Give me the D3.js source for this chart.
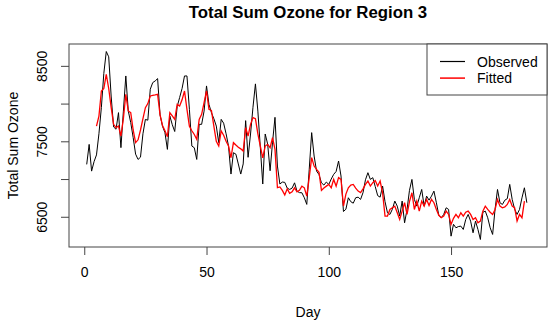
<!DOCTYPE html>
<html>
<head>
<meta charset="utf-8">
<script src="https://cdn.jsdelivr.net/npm/d3@7"></script>
<style>
  body { margin: 0; background: #fff; }
  text { font-family: "Liberation Sans", Arial, sans-serif; fill: #000; }
</style>
</head>
<body>
<div id="chart"></div>
<script>
// observed total ozone, days 1..181
const observed = [
  7194, 7459, 7105, 7230, 7320, 7600, 7950, 8400, 8690, 8620,
  8100, 7690, 7660, 7880, 7416, 7900, 8366, 7902, 7750, 7550,
  7330, 7260, 7290, 7600, 7790, 7780, 8190, 8278, 8300, 8331,
  7850, 7700, 7615, 7393, 7835, 7720, 7630, 7960, 8080, 8200,
  8366, 8366, 7924, 7437, 7415, 7260, 7725, 7725, 7900, 8234,
  7990, 7880, 7800, 7702, 7482, 7791, 7740, 7600, 7437, 7066,
  7349, 7330, 7200, 7066, 7200, 7774, 7288, 7597, 7951, 8261,
  7900, 7420, 6934, 7597, 7464, 7110, 7487, 7818, 7172, 6934,
  6960, 6956, 6880, 6862, 6880, 6950, 6840, 6820, 6818, 6752,
  6664, 7128, 7615, 7305, 7106, 7060, 6950, 6920, 6960, 6928,
  7000, 7062, 7100, 7239, 7040, 6570, 6600, 6752, 6700, 6680,
  6752, 6760, 6730, 6820, 6990, 7084, 6995, 7018, 6900, 6780,
  6760, 6907, 6700, 6553, 6531, 6600, 6708, 6641, 6509, 6708,
  6420, 6597, 6850, 6995, 6730, 6641, 6752, 6862, 6641, 6774,
  6720, 6774, 6840, 6686, 6520, 6487, 6531, 6619, 6597, 6243,
  6400, 6354, 6370, 6376, 6332, 6464, 6531, 6442, 6288, 6442,
  6332, 6199, 6560, 6575, 6487, 6354, 6266, 6600, 6862, 6686,
  6663, 6720, 6740, 6929, 6730, 6600, 6531, 6597, 6750, 6884,
  6686
];
const obsFirstDay = 1;

// fitted values, days 5..180
const fitted = [
  7702, 7835, 8167, 8200, 8388, 8200, 7950, 7725, 7681, 7702,
  7570, 7800, 8123, 7902, 7880, 7650, 7482, 7520, 7650, 7800,
  7946, 8000, 8101, 8110, 8115, 8123, 7850, 7710, 7640, 7560,
  7880, 7836, 7790, 7990, 7968, 8050, 8167, 7924, 7700, 7640,
  7590, 7526, 7790, 7857, 8013, 8167, 7924, 7910, 7700, 7500,
  7437, 7637, 7580, 7500, 7437, 7282, 7482, 7450, 7420, 7400,
  7371, 7681, 7570, 7725, 7814, 7800, 7600, 7437, 7282, 7437,
  7460, 7415, 7548, 7393, 6885, 6895, 6850, 6790, 6870, 6810,
  6830, 6884, 6830, 6850, 6906, 6884, 6774, 7018, 7283, 7172,
  7128, 7090, 6850, 6880, 6906, 6928, 6884, 6995, 6906, 7018,
  6995, 6642, 6800, 6884, 6920, 6928, 6880, 6840, 6820, 6870,
  6929, 6973, 6907, 6951, 6980, 6907, 6973, 6818, 6509, 6509,
  6597, 6620, 6641, 6553, 6464, 6575, 6686, 6531, 6700, 6818,
  6597, 6708, 6575, 6708, 6641, 6730, 6650, 6730, 6686, 6597,
  6520, 6487, 6509, 6575, 6531, 6398, 6480, 6531, 6487, 6553,
  6509, 6560, 6575, 6531, 6464, 6487, 6420, 6442, 6575, 6641,
  6597, 6560, 6531, 6597, 6730, 6641, 6619, 6630, 6663, 6730,
  6641, 6620, 6443, 6531, 6487, 6708
];
const fitFirstDay = 5;

const xTicks = [0, 50, 100, 150];
const yTicks = [6500, 7000, 7500, 8000, 8500];
const yTickLabels = [6500, 7500, 8500];
const seriesNames = ["Observed", "Fitted"];
const seriesColors = ["#000", "#ff0000"];

const width = 550;
const height = 320;
const margin = { top: 44, right: 3, bottom: 73, left: 69 };

const obsData = observed.map((v, i) => ({ day: obsFirstDay + i, value: v }));
const fitData = fitted.map((v, i) => ({ day: fitFirstDay + i, value: v }));

const svg = d3.select("#chart")
  .append("svg")
  .attr("width", width)
  .attr("height", height);

// R-style 4% padding on both axes
const xr = [1, 182];
const xpad = (xr[1] - xr[0]) * 0.04;
const yr = d3.extent(observed.concat(fitted));
const ypad = (yr[1] - yr[0]) * 0.04;

const x = d3.scaleLinear()
  .domain([xr[0] - xpad, xr[1] + xpad])
  .range([margin.left, width - margin.right]);

const y = d3.scaleLinear()
  .domain([yr[0] - ypad, yr[1] + ypad])
  .range([height - margin.bottom, margin.top]);

const line = d3.line()
  .x(d => x(d.day))
  .y(d => y(d.value));

svg.append("path")
  .datum(obsData)
  .attr("fill", "none")
  .attr("stroke", seriesColors[0])
  .attr("stroke-width", 1)
  .attr("d", line);

svg.append("path")
  .datum(fitData)
  .attr("fill", "none")
  .attr("stroke", seriesColors[1])
  .attr("stroke-width", 1.3)
  .attr("d", line);

// box
svg.append("rect")
  .attr("x", margin.left)
  .attr("y", margin.top)
  .attr("width", width - margin.left - margin.right)
  .attr("height", height - margin.top - margin.bottom)
  .attr("fill", "none")
  .attr("stroke", "#444");

// x axis
const xAxis = svg.append("g")
  .attr("transform", `translate(0,${height - margin.bottom})`)
  .call(d3.axisBottom(x).tickValues(xTicks).tickSize(8).tickPadding(12));
xAxis.select(".domain").attr("stroke", "#444")
  .attr("d", `M${x(xTicks[0])},0H${x(xTicks[xTicks.length - 1])}`)
  .attr("stroke-opacity", 0);
xAxis.selectAll(".tick line").attr("stroke", "#444");
xAxis.selectAll("text")
  .style("font-size", "14px")
  .attr("fill", "#000");

// y axis
const yAxis = svg.append("g")
  .attr("transform", `translate(${margin.left},0)`)
  .call(d3.axisLeft(y).tickValues(yTicks).tickSize(8)
    .tickFormat(d => yTickLabels.includes(d) ? d : ""));
yAxis.select(".domain").attr("stroke-opacity", 0);
yAxis.selectAll(".tick line").attr("stroke", "#444");
yAxis.selectAll("text")
  .style("font-size", "14px")
  .attr("fill", "#000")
  .attr("text-anchor", "middle")
  .attr("x", 0)
  .attr("dy", 0)
  .attr("transform", "translate(-22,0) rotate(-90)");

// titles
svg.append("text")
  .attr("x", (margin.left + width - margin.right) / 2)
  .attr("y", 18)
  .attr("text-anchor", "middle")
  .style("font-size", "16.8px")
  .style("font-weight", "bold")
  .text("Total Sum Ozone for Region 3");

svg.append("text")
  .attr("x", (margin.left + width - margin.right) / 2)
  .attr("y", 317)
  .attr("text-anchor", "middle")
  .style("font-size", "14px")
  .text("Day");

svg.append("text")
  .attr("transform", `translate(18,${(margin.top + height - margin.bottom) / 2}) rotate(-90)`)
  .attr("text-anchor", "middle")
  .style("font-size", "14px")
  .text("Total Sum Ozone");

// legend
const lx = 427, ly = margin.top, lw = width - margin.right - lx, lh = 51;
const legend = svg.append("g");
legend.append("rect")
  .attr("x", lx).attr("y", ly)
  .attr("width", lw).attr("height", lh)
  .attr("fill", "#fff")
  .attr("stroke", "#444");

seriesNames.forEach((name, i) => {
  const yy = ly + 17.5 + i * 16.6;
  legend.append("line")
    .attr("x1", lx + 13).attr("x2", lx + 38)
    .attr("y1", yy).attr("y2", yy)
    .attr("stroke", seriesColors[i])
    .attr("stroke-width", i === 0 ? 1.2 : 1.5);
  legend.append("text")
    .attr("x", lx + 50)
    .attr("y", yy + 5)
    .style("font-size", "14px")
    .text(name);
});
</script>
</body>
</html>
